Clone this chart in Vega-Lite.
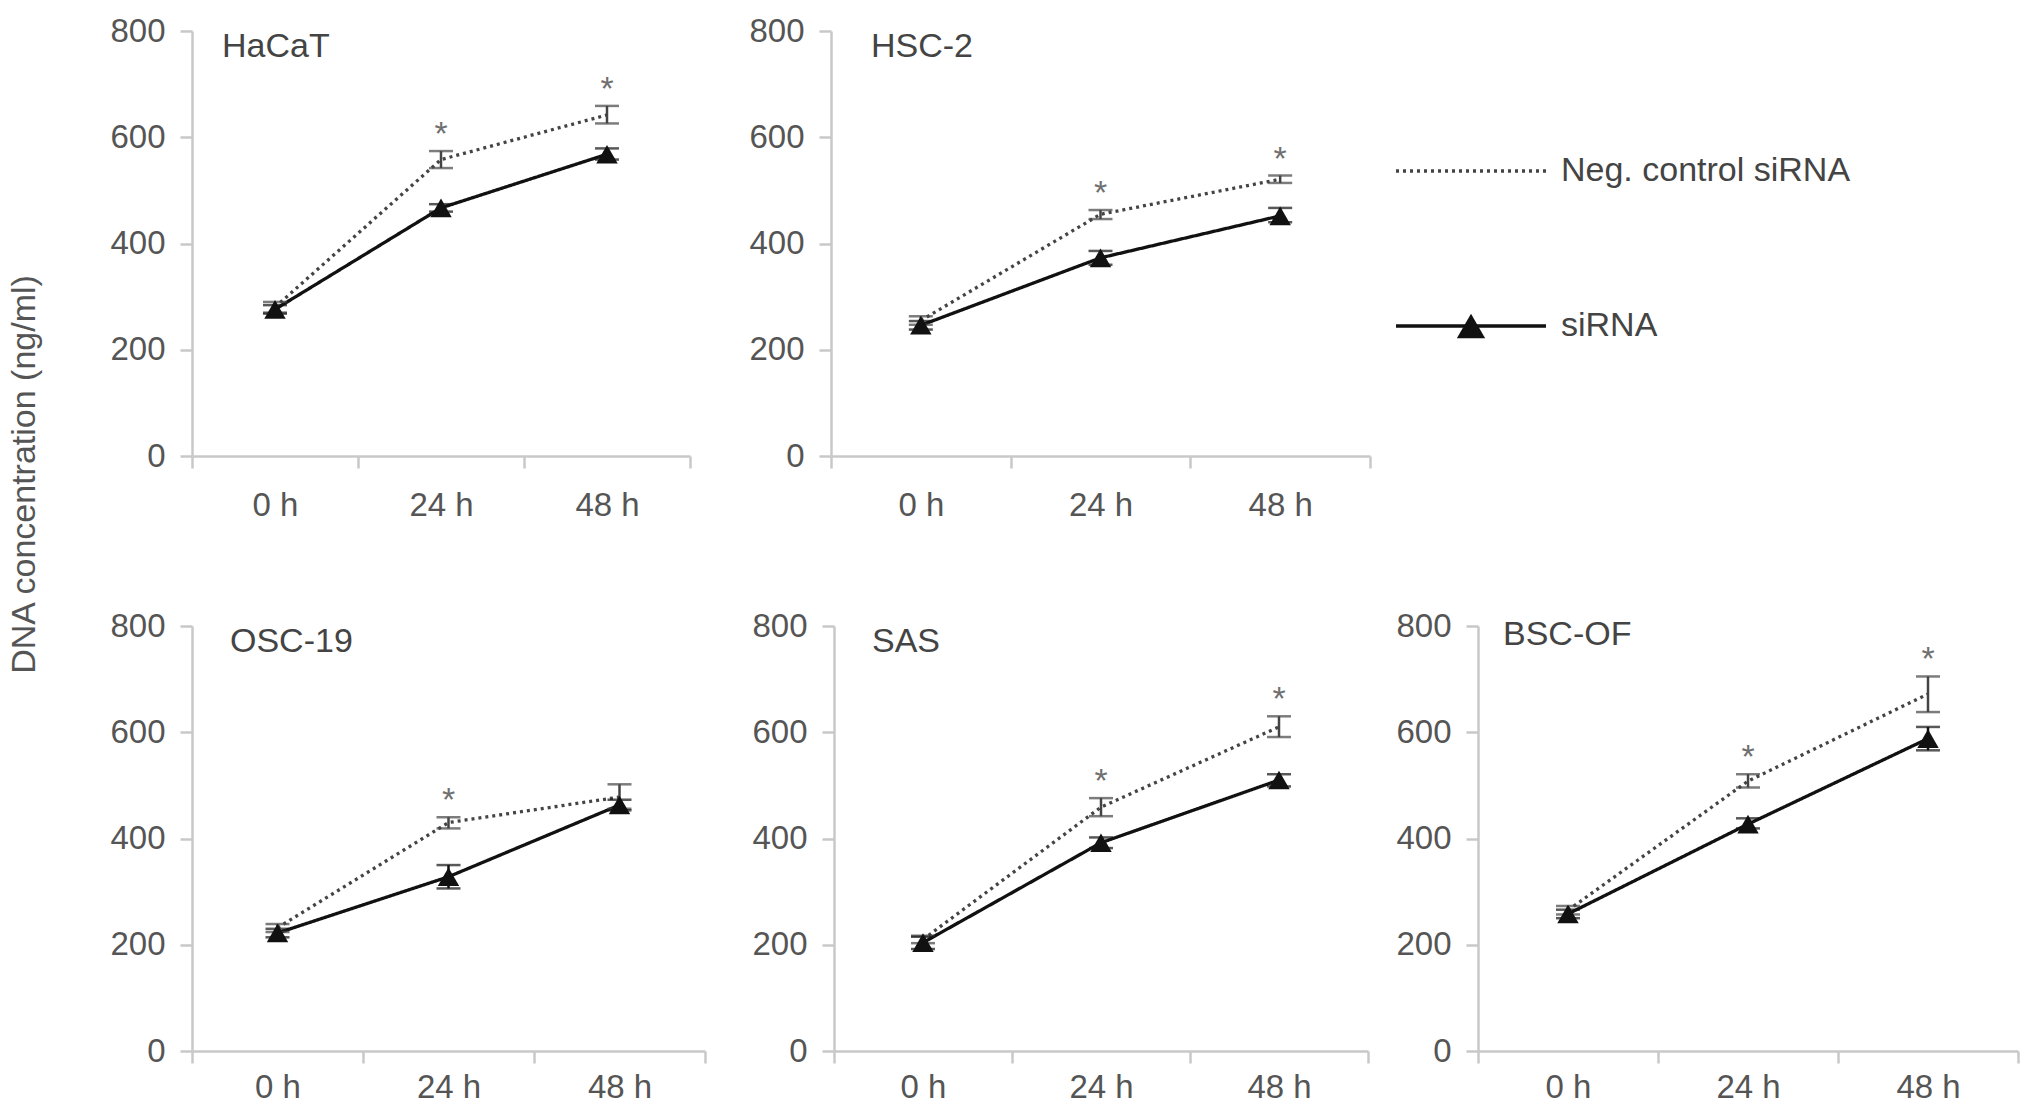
{
  "$schema": "https://vega.github.io/schema/vega-lite/v6.json",
  "background": "white",
  "padding": {"left": 7, "top": 15, "right": 5, "bottom": 2},
  "config": {
    "font": "Liberation Sans",
    "view": {"stroke": null},
    "axis": {"domainColor": "#c8c8c8", "domainWidth": 2.5, "tickColor": "#c8c8c8", "tickWidth": 2.5, "tickSize": 12, "labelFont": "Liberation Sans", "labelFontSize": 33, "labelColor": "#555555", "grid": false}
  },
  "title": {"text": "DNA concentration (ng/ml)", "orient": "left", "anchor": "middle", "offset": 51, "dx": 85, "baseline": "middle", "fontSize": 34, "fontWeight": "normal", "color": "#555555", "font": "Liberation Sans"},
  "datasets": {
    "main": [
      {"cell": "HaCaT", "series": "Neg. control siRNA", "time": "0 h", "mean": 280, "lo": 270, "hi": 290, "sig": false},
      {"cell": "HaCaT", "series": "Neg. control siRNA", "time": "24 h", "mean": 558, "lo": 542, "hi": 574, "sig": true},
      {"cell": "HaCaT", "series": "Neg. control siRNA", "time": "48 h", "mean": 642, "lo": 626, "hi": 659, "sig": true},
      {"cell": "HaCaT", "series": "siRNA", "time": "0 h", "mean": 276, "lo": 268, "hi": 284, "sig": false},
      {"cell": "HaCaT", "series": "siRNA", "time": "24 h", "mean": 467, "lo": 460, "hi": 474, "sig": false},
      {"cell": "HaCaT", "series": "siRNA", "time": "48 h", "mean": 568, "lo": 558, "hi": 579, "sig": false},
      {"cell": "HSC-2", "series": "Neg. control siRNA", "time": "0 h", "mean": 255, "lo": 247, "hi": 263, "sig": false},
      {"cell": "HSC-2", "series": "Neg. control siRNA", "time": "24 h", "mean": 455, "lo": 446, "hi": 463, "sig": true},
      {"cell": "HSC-2", "series": "Neg. control siRNA", "time": "48 h", "mean": 521, "lo": 514, "hi": 528, "sig": true},
      {"cell": "HSC-2", "series": "siRNA", "time": "0 h", "mean": 246, "lo": 238, "hi": 254, "sig": false},
      {"cell": "HSC-2", "series": "siRNA", "time": "24 h", "mean": 373, "lo": 360, "hi": 386, "sig": false},
      {"cell": "HSC-2", "series": "siRNA", "time": "48 h", "mean": 452, "lo": 440, "hi": 467, "sig": false},
      {"cell": "OSC-19", "series": "Neg. control siRNA", "time": "0 h", "mean": 232, "lo": 224, "hi": 239, "sig": false},
      {"cell": "OSC-19", "series": "Neg. control siRNA", "time": "24 h", "mean": 430, "lo": 419, "hi": 440, "sig": true},
      {"cell": "OSC-19", "series": "Neg. control siRNA", "time": "48 h", "mean": 478, "lo": 456, "hi": 502, "sig": false},
      {"cell": "OSC-19", "series": "siRNA", "time": "0 h", "mean": 222, "lo": 214, "hi": 230, "sig": false},
      {"cell": "OSC-19", "series": "siRNA", "time": "24 h", "mean": 328, "lo": 306, "hi": 350, "sig": false},
      {"cell": "OSC-19", "series": "siRNA", "time": "48 h", "mean": 463, "lo": 453, "hi": 473, "sig": false},
      {"cell": "SAS", "series": "Neg. control siRNA", "time": "0 h", "mean": 210, "lo": 203, "hi": 217, "sig": false},
      {"cell": "SAS", "series": "Neg. control siRNA", "time": "24 h", "mean": 459, "lo": 442, "hi": 476, "sig": true},
      {"cell": "SAS", "series": "Neg. control siRNA", "time": "48 h", "mean": 610, "lo": 591, "hi": 630, "sig": true},
      {"cell": "SAS", "series": "siRNA", "time": "0 h", "mean": 204, "lo": 192, "hi": 215, "sig": false},
      {"cell": "SAS", "series": "siRNA", "time": "24 h", "mean": 392, "lo": 382, "hi": 402, "sig": false},
      {"cell": "SAS", "series": "siRNA", "time": "48 h", "mean": 510, "lo": 498, "hi": 521, "sig": false},
      {"cell": "BSC-OF", "series": "Neg. control siRNA", "time": "0 h", "mean": 265, "lo": 257, "hi": 273, "sig": false},
      {"cell": "BSC-OF", "series": "Neg. control siRNA", "time": "24 h", "mean": 508, "lo": 496, "hi": 521, "sig": true},
      {"cell": "BSC-OF", "series": "Neg. control siRNA", "time": "48 h", "mean": 672, "lo": 638, "hi": 705, "sig": true},
      {"cell": "BSC-OF", "series": "siRNA", "time": "0 h", "mean": 258, "lo": 250, "hi": 266, "sig": false},
      {"cell": "BSC-OF", "series": "siRNA", "time": "24 h", "mean": 427, "lo": 419, "hi": 438, "sig": false},
      {"cell": "BSC-OF", "series": "siRNA", "time": "48 h", "mean": 588, "lo": 566, "hi": 610, "sig": false}
    ],
    "legend": [
      {"series": "Neg. control siRNA"},
      {"series": "siRNA"}
    ]
  },
  "vconcat": [
    {
      "hconcat": [
        {
          "width": 498, "height": 425,
          "title": {"text": "HaCaT", "anchor": "start", "frame": "group", "offset": -33, "dx": 30, "dy": 33, "baseline": "middle", "fontSize": 34, "fontWeight": "normal", "color": "#444444", "font": "Liberation Sans"},
          "data": {"name": "main"},
          "transform": [{"filter": "datum.cell === 'HaCaT'"}],
          "encoding": {
            "x": {"field": "time", "type": "ordinal", "sort": ["0 h", "24 h", "48 h"], "bandPosition": 0.5, "scale": {"type": "band", "paddingInner": 0, "paddingOuter": 0}, "axis": {"title": null, "tickBand": "extent", "labelAngle": 0, "labelPadding": 21}},
            "y": {"field": "mean", "type": "quantitative", "scale": {"domain": [0, 800], "nice": false}, "axis": {"title": null, "values": [0, 200, 400, 600, 800], "labelPadding": 15}},
            "color": {"field": "series", "type": "nominal", "scale": {"domain": ["Neg. control siRNA", "siRNA"], "range": ["#444444", "#111111"]}, "legend": null}
          },
          "layer": [
            {"mark": {"type": "line", "strokeWidth": 3.3}, "encoding": {"strokeDash": {"field": "series", "type": "nominal", "scale": {"domain": ["Neg. control siRNA", "siRNA"], "range": [[3, 4], [1, 0]]}, "legend": null}}},
            {"mark": {"type": "rule", "strokeWidth": 2.5}, "encoding": {"y": {"field": "lo", "type": "quantitative"}, "y2": {"field": "hi"}}},
            {"mark": {"type": "tick", "size": 24, "thickness": 2.5}, "encoding": {"y": {"field": "lo", "type": "quantitative"}}},
            {"mark": {"type": "tick", "size": 24, "thickness": 2.5}, "encoding": {"y": {"field": "hi", "type": "quantitative"}}},
            {"transform": [{"filter": "datum.series === 'siRNA'"}], "mark": {"type": "point", "shape": "triangle-up", "filled": true, "size": 460, "opacity": 1}},
            {"transform": [{"filter": "datum.sig"}], "mark": {"type": "text", "text": "*", "dy": -6, "baseline": "alphabetic", "fontSize": 34, "color": "#707070"}, "encoding": {"y": {"field": "hi", "type": "quantitative"}, "color": {"value": "#707070"}}}
          ]
        },
        {
          "hconcat": [
            {
              "width": 539, "height": 425,
              "title": {"text": "HSC-2", "anchor": "start", "frame": "group", "offset": -33, "dx": 40, "dy": 33, "baseline": "middle", "fontSize": 34, "fontWeight": "normal", "color": "#444444", "font": "Liberation Sans"},
              "data": {"name": "main"},
              "transform": [{"filter": "datum.cell === 'HSC-2'"}],
              "encoding": {
                "x": {"field": "time", "type": "ordinal", "sort": ["0 h", "24 h", "48 h"], "bandPosition": 0.5, "scale": {"type": "band", "paddingInner": 0, "paddingOuter": 0}, "axis": {"title": null, "tickBand": "extent", "labelAngle": 0, "labelPadding": 21}},
                "y": {"field": "mean", "type": "quantitative", "scale": {"domain": [0, 800], "nice": false}, "axis": {"title": null, "values": [0, 200, 400, 600, 800], "labelPadding": 15}},
                "color": {"field": "series", "type": "nominal", "scale": {"domain": ["Neg. control siRNA", "siRNA"], "range": ["#444444", "#111111"]}, "legend": null}
              },
              "layer": [
                {"mark": {"type": "line", "strokeWidth": 3.3}, "encoding": {"strokeDash": {"field": "series", "type": "nominal", "scale": {"domain": ["Neg. control siRNA", "siRNA"], "range": [[3, 4], [1, 0]]}, "legend": null}}},
                {"mark": {"type": "rule", "strokeWidth": 2.5}, "encoding": {"y": {"field": "lo", "type": "quantitative"}, "y2": {"field": "hi"}}},
                {"mark": {"type": "tick", "size": 24, "thickness": 2.5}, "encoding": {"y": {"field": "lo", "type": "quantitative"}}},
                {"mark": {"type": "tick", "size": 24, "thickness": 2.5}, "encoding": {"y": {"field": "hi", "type": "quantitative"}}},
                {"transform": [{"filter": "datum.series === 'siRNA'"}], "mark": {"type": "point", "shape": "triangle-up", "filled": true, "size": 460, "opacity": 1}},
                {"transform": [{"filter": "datum.sig"}], "mark": {"type": "text", "text": "*", "dy": -6, "baseline": "alphabetic", "fontSize": 34, "color": "#707070"}, "encoding": {"y": {"field": "hi", "type": "quantitative"}, "color": {"value": "#707070"}}}
              ]
            },
            {
              "width": 150, "height": 425,
              "data": {"name": "legend"},
              "layer": [
                {"mark": {"type": "rule", "strokeWidth": 3.3}, "encoding": {
                  "x": {"datum": 0, "type": "quantitative", "scale": {"domain": [0, 1], "nice": false, "zero": false}, "axis": null},
                  "x2": {"datum": 1},
                  "y": {"field": "series", "type": "nominal", "scale": {"type": "point", "domain": ["Neg. control siRNA", "siRNA"], "range": [140, 295], "padding": 0}, "axis": null},
                  "strokeDash": {"field": "series", "type": "nominal", "scale": {"domain": ["Neg. control siRNA", "siRNA"], "range": [[3, 4], [1, 0]]}, "legend": null},
                  "color": {"field": "series", "type": "nominal", "scale": {"domain": ["Neg. control siRNA", "siRNA"], "range": ["#444444", "#111111"]}, "legend": null}
                }},
                {"transform": [{"filter": "datum.series === 'siRNA'"}], "mark": {"type": "point", "shape": "triangle-up", "filled": true, "size": 800, "opacity": 1, "color": "#111111"}, "encoding": {
                  "x": {"datum": 0.5, "type": "quantitative"},
                  "y": {"field": "series", "type": "nominal"}
                }},
                {"mark": {"type": "text", "align": "left", "baseline": "middle", "dx": 15, "fontSize": 34, "color": "#444444"}, "encoding": {
                  "x": {"datum": 1, "type": "quantitative"},
                  "y": {"field": "series", "type": "nominal"},
                  "text": {"field": "series"}
                }}
              ]
            }
          ],
          "spacing": 22
        }
      ],
      "spacing": 56
    },
    {
      "hconcat": [
        {
          "width": 513, "height": 425,
          "title": {"text": "OSC-19", "anchor": "start", "frame": "group", "offset": -31, "dx": 38, "dy": 35, "baseline": "middle", "fontSize": 34, "fontWeight": "normal", "color": "#444444", "font": "Liberation Sans"},
          "data": {"name": "main"},
          "transform": [{"filter": "datum.cell === 'OSC-19'"}],
          "encoding": {
            "x": {"field": "time", "type": "ordinal", "sort": ["0 h", "24 h", "48 h"], "bandPosition": 0.5, "scale": {"type": "band", "paddingInner": 0, "paddingOuter": 0}, "axis": {"title": null, "tickBand": "extent", "labelAngle": 0, "labelPadding": 8}},
            "y": {"field": "mean", "type": "quantitative", "scale": {"domain": [0, 800], "nice": false}, "axis": {"title": null, "values": [0, 200, 400, 600, 800], "labelPadding": 15}},
            "color": {"field": "series", "type": "nominal", "scale": {"domain": ["Neg. control siRNA", "siRNA"], "range": ["#444444", "#111111"]}, "legend": null}
          },
          "layer": [
            {"mark": {"type": "line", "strokeWidth": 3.3}, "encoding": {"strokeDash": {"field": "series", "type": "nominal", "scale": {"domain": ["Neg. control siRNA", "siRNA"], "range": [[3, 4], [1, 0]]}, "legend": null}}},
            {"mark": {"type": "rule", "strokeWidth": 2.5}, "encoding": {"y": {"field": "lo", "type": "quantitative"}, "y2": {"field": "hi"}}},
            {"mark": {"type": "tick", "size": 24, "thickness": 2.5}, "encoding": {"y": {"field": "lo", "type": "quantitative"}}},
            {"mark": {"type": "tick", "size": 24, "thickness": 2.5}, "encoding": {"y": {"field": "hi", "type": "quantitative"}}},
            {"transform": [{"filter": "datum.series === 'siRNA'"}], "mark": {"type": "point", "shape": "triangle-up", "filled": true, "size": 460, "opacity": 1}},
            {"transform": [{"filter": "datum.sig"}], "mark": {"type": "text", "text": "*", "dy": -6, "baseline": "alphabetic", "fontSize": 34, "color": "#707070"}, "encoding": {"y": {"field": "hi", "type": "quantitative"}, "color": {"value": "#707070"}}}
          ]
        },
        {
          "hconcat": [
            {
              "width": 534, "height": 425,
              "title": {"text": "SAS", "anchor": "start", "frame": "group", "offset": -31, "dx": 38, "dy": 35, "baseline": "middle", "fontSize": 34, "fontWeight": "normal", "color": "#444444", "font": "Liberation Sans"},
              "data": {"name": "main"},
              "transform": [{"filter": "datum.cell === 'SAS'"}],
              "encoding": {
                "x": {"field": "time", "type": "ordinal", "sort": ["0 h", "24 h", "48 h"], "bandPosition": 0.5, "scale": {"type": "band", "paddingInner": 0, "paddingOuter": 0}, "axis": {"title": null, "tickBand": "extent", "labelAngle": 0, "labelPadding": 8}},
                "y": {"field": "mean", "type": "quantitative", "scale": {"domain": [0, 800], "nice": false}, "axis": {"title": null, "values": [0, 200, 400, 600, 800], "labelPadding": 15}},
                "color": {"field": "series", "type": "nominal", "scale": {"domain": ["Neg. control siRNA", "siRNA"], "range": ["#444444", "#111111"]}, "legend": null}
              },
              "layer": [
                {"mark": {"type": "line", "strokeWidth": 3.3}, "encoding": {"strokeDash": {"field": "series", "type": "nominal", "scale": {"domain": ["Neg. control siRNA", "siRNA"], "range": [[3, 4], [1, 0]]}, "legend": null}}},
                {"mark": {"type": "rule", "strokeWidth": 2.5}, "encoding": {"y": {"field": "lo", "type": "quantitative"}, "y2": {"field": "hi"}}},
                {"mark": {"type": "tick", "size": 24, "thickness": 2.5}, "encoding": {"y": {"field": "lo", "type": "quantitative"}}},
                {"mark": {"type": "tick", "size": 24, "thickness": 2.5}, "encoding": {"y": {"field": "hi", "type": "quantitative"}}},
                {"transform": [{"filter": "datum.series === 'siRNA'"}], "mark": {"type": "point", "shape": "triangle-up", "filled": true, "size": 460, "opacity": 1}},
                {"transform": [{"filter": "datum.sig"}], "mark": {"type": "text", "text": "*", "dy": -6, "baseline": "alphabetic", "fontSize": 34, "color": "#707070"}, "encoding": {"y": {"field": "hi", "type": "quantitative"}, "color": {"value": "#707070"}}}
              ]
            },
            {
              "width": 540, "height": 425,
              "title": {"text": "BSC-OF", "anchor": "start", "frame": "group", "offset": -24, "dx": 25, "dy": 34.5, "baseline": "middle", "fontSize": 34, "fontWeight": "normal", "color": "#444444", "font": "Liberation Sans"},
              "data": {"name": "main"},
              "transform": [{"filter": "datum.cell === 'BSC-OF'"}],
              "encoding": {
                "x": {"field": "time", "type": "ordinal", "sort": ["0 h", "24 h", "48 h"], "bandPosition": 0.5, "scale": {"type": "band", "paddingInner": 0, "paddingOuter": 0}, "axis": {"title": null, "tickBand": "extent", "labelAngle": 0, "labelPadding": 8}},
                "y": {"field": "mean", "type": "quantitative", "scale": {"domain": [0, 800], "nice": false}, "axis": {"title": null, "values": [0, 200, 400, 600, 800], "labelPadding": 15}},
                "color": {"field": "series", "type": "nominal", "scale": {"domain": ["Neg. control siRNA", "siRNA"], "range": ["#444444", "#111111"]}, "legend": null}
              },
              "layer": [
                {"mark": {"type": "line", "strokeWidth": 3.3}, "encoding": {"strokeDash": {"field": "series", "type": "nominal", "scale": {"domain": ["Neg. control siRNA", "siRNA"], "range": [[3, 4], [1, 0]]}, "legend": null}}},
                {"mark": {"type": "rule", "strokeWidth": 2.5}, "encoding": {"y": {"field": "lo", "type": "quantitative"}, "y2": {"field": "hi"}}},
                {"mark": {"type": "tick", "size": 24, "thickness": 2.5}, "encoding": {"y": {"field": "lo", "type": "quantitative"}}},
                {"mark": {"type": "tick", "size": 24, "thickness": 2.5}, "encoding": {"y": {"field": "hi", "type": "quantitative"}}},
                {"transform": [{"filter": "datum.series === 'siRNA'"}], "mark": {"type": "point", "shape": "triangle-up", "filled": true, "size": 460, "opacity": 1}},
                {"transform": [{"filter": "datum.sig"}], "mark": {"type": "text", "text": "*", "dy": -6, "baseline": "alphabetic", "fontSize": 34, "color": "#707070"}, "encoding": {"y": {"field": "hi", "type": "quantitative"}, "color": {"value": "#707070"}}}
              ]
            }
          ],
          "spacing": 25
        }
      ],
      "spacing": 44
    }
  ],
  "spacing": 88
}
